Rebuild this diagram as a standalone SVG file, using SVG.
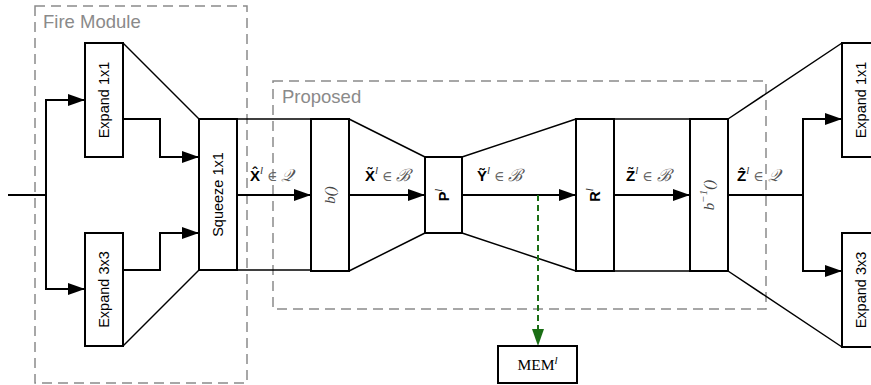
<svg xmlns="http://www.w3.org/2000/svg" width="871" height="385" viewBox="0 0 871 385">
<style>
.box{fill:#fff;stroke:#000;stroke-width:2}
.grp{fill:none;stroke:#8a8a8a;stroke-width:1.5;stroke-dasharray:10,6}
.gl{font-family:"Liberation Sans",Arial,sans-serif;font-size:18.5px;fill:#8a8a8a}
.bt{font-family:"Liberation Sans",Arial,sans-serif;font-size:14.5px;fill:#000;text-anchor:middle;dominant-baseline:central}
.mt{font-family:"Liberation Serif","DejaVu Serif",serif;font-style:italic;font-size:15px;fill:#444;text-anchor:middle;dominant-baseline:central}
.ln{fill:none;stroke:#000;stroke-width:2}
.dg{fill:none;stroke:#000;stroke-width:1.5}
.lab{font-family:"Liberation Sans",Arial,sans-serif;font-size:15px;font-weight:bold;fill:#000}
.sup{font-family:"Liberation Serif",serif;font-style:italic;font-weight:normal;font-size:11px;fill:#333}
.el{font-family:"DejaVu Serif","Liberation Serif",serif;font-weight:normal;font-size:14px;fill:#666}
.cal{font-family:"Liberation Serif",serif;font-style:italic;font-weight:normal;font-size:17px;fill:#555}
</style>
<defs>
<marker id="ah" markerUnits="userSpaceOnUse" markerWidth="17" markerHeight="12" refX="17" refY="6" orient="auto"><path d="M0,0 L17,6 L0,12 z" fill="#000"/></marker>
<marker id="ag" markerUnits="userSpaceOnUse" markerWidth="12" markerHeight="17" refX="6" refY="17" orient="0"><path d="M0,0 L12,0 L6,17 z" fill="#1a6e14"/></marker>
</defs>
<rect width="871" height="385" fill="#fff"/>
<g id="fire-module">
<rect class="grp" x="35" y="6" width="212" height="377"/>
<text class="gl" x="43" y="28">Fire Module</text>
</g>
<g id="proposed">
<rect class="grp" x="273" y="81" width="493" height="228"/>
<text class="gl" x="282" y="103">Proposed</text>
</g>
<g id="connectors">
<path class="ln" d="M8,195 H46"/>
<path class="ln" d="M46,195 V100 H85" marker-end="url(#ah)"/>
<path class="ln" d="M46,195 V289 H85" marker-end="url(#ah)"/>
<path class="ln" d="M123,119 H160 V157 H199" marker-end="url(#ah)"/>
<path class="ln" d="M123,270 H160 V233 H199" marker-end="url(#ah)"/>
<path class="dg" d="M123,43 L199,119"/>
<path class="dg" d="M123,346 L199,270"/>
<path class="dg" d="M237,119 H311 M237,270 H311"/>
<path class="ln" d="M237,195 H311" marker-end="url(#ah)"/>
<path class="dg" d="M349,119 L425,157 M349,271 L425,233"/>
<path class="ln" d="M349,195 H425" marker-end="url(#ah)"/>
<path class="dg" d="M462,157 L576,119 M462,233 L576,271"/>
<path class="ln" d="M462,195 H576" marker-end="url(#ah)"/>
<path class="dg" d="M614,119 H690 M614,271 H690"/>
<path class="ln" d="M614,195 H690" marker-end="url(#ah)"/>
<path class="dg" d="M728,119 L842,43 M728,271 L842,347"/>
<path class="ln" d="M728,195 H803"/>
<path class="ln" d="M803,195 V119 H842" marker-end="url(#ah)"/>
<path class="ln" d="M803,195 V271 H842" marker-end="url(#ah)"/>
<path d="M538,195 V346" fill="none" stroke="#1a6e14" stroke-width="2" stroke-dasharray="6,4" marker-end="url(#ag)"/>
</g>
<g id="expand1x1-in">
<rect class="box" x="85" y="43" width="38" height="114"/>
<text class="bt" transform="translate(104,100) rotate(-90)">Expand 1x1</text>
</g>
<g id="expand3x3-in">
<rect class="box" x="85" y="233" width="38" height="113"/>
<text class="bt" transform="translate(104,289.5) rotate(-90)">Expand 3x3</text>
</g>
<g id="squeeze">
<rect class="box" x="199" y="119" width="38" height="151"/>
<text class="bt" transform="translate(218,194.5) rotate(-90)">Squeeze 1x1</text>
</g>
<g id="binarize">
<rect class="box" x="311" y="119" width="38" height="152"/>
<text class="mt" transform="translate(330,195) rotate(-90)">b()</text>
</g>
<g id="P">
<rect class="box" x="425" y="157" width="37" height="76"/>
<text class="bt" font-weight="bold" transform="translate(443.5,195) rotate(-90)">P<tspan class="sup" dy="-6">l</tspan></text>
</g>
<g id="R">
<rect class="box" x="576" y="119" width="38" height="152"/>
<text class="bt" font-weight="bold" transform="translate(595,195) rotate(-90)">R<tspan class="sup" dy="-6">l</tspan></text>
</g>
<g id="binv">
<rect class="box" x="690" y="119" width="38" height="152"/>
<text class="mt" transform="translate(709,195) rotate(-90)">b<tspan font-size="11" dy="-6">−1</tspan><tspan dy="6">()</tspan></text>
</g>
<g id="expand1x1-out">
<rect class="box" x="842" y="43" width="38" height="114"/>
<text class="bt" transform="translate(861,100) rotate(-90)">Expand 1x1</text>
</g>
<g id="expand3x3-out">
<rect class="box" x="842" y="233" width="38" height="114"/>
<text class="bt" transform="translate(861,290) rotate(-90)">Expand 3x3</text>
</g>
<g id="mem">
<rect class="box" x="498" y="346" width="79" height="37"/>
<text x="537.5" y="370" text-anchor="middle" font-family="Liberation Serif,serif" font-size="15.5" fill="#000">MEM<tspan font-style="italic" font-size="11" dy="-6">l</tspan></text>
</g>
<g id="labels">
<text class="lab" x="250" y="181">X&#x302;<tspan class="sup" dy="-7">l</tspan><tspan class="el" dx="4" dy="7">∈</tspan><tspan class="cal" dx="4">𝒬</tspan></text>
<text class="lab" x="365" y="181">X&#x303;<tspan class="sup" dy="-7">l</tspan><tspan class="el" dx="4" dy="7">∈</tspan><tspan class="cal" dx="4">ℬ</tspan></text>
<text class="lab" x="477" y="181">Y&#x303;<tspan class="sup" dy="-7">l</tspan><tspan class="el" dx="4" dy="7">∈</tspan><tspan class="cal" dx="4">ℬ</tspan></text>
<text class="lab" x="626" y="181">Z&#x303;<tspan class="sup" dy="-7">l</tspan><tspan class="el" dx="4" dy="7">∈</tspan><tspan class="cal" dx="4">ℬ</tspan></text>
<text class="lab" x="737" y="181">Z&#x302;<tspan class="sup" dy="-7">l</tspan><tspan class="el" dx="4" dy="7">∈</tspan><tspan class="cal" dx="4">𝒬</tspan></text>
</g>
</svg>
